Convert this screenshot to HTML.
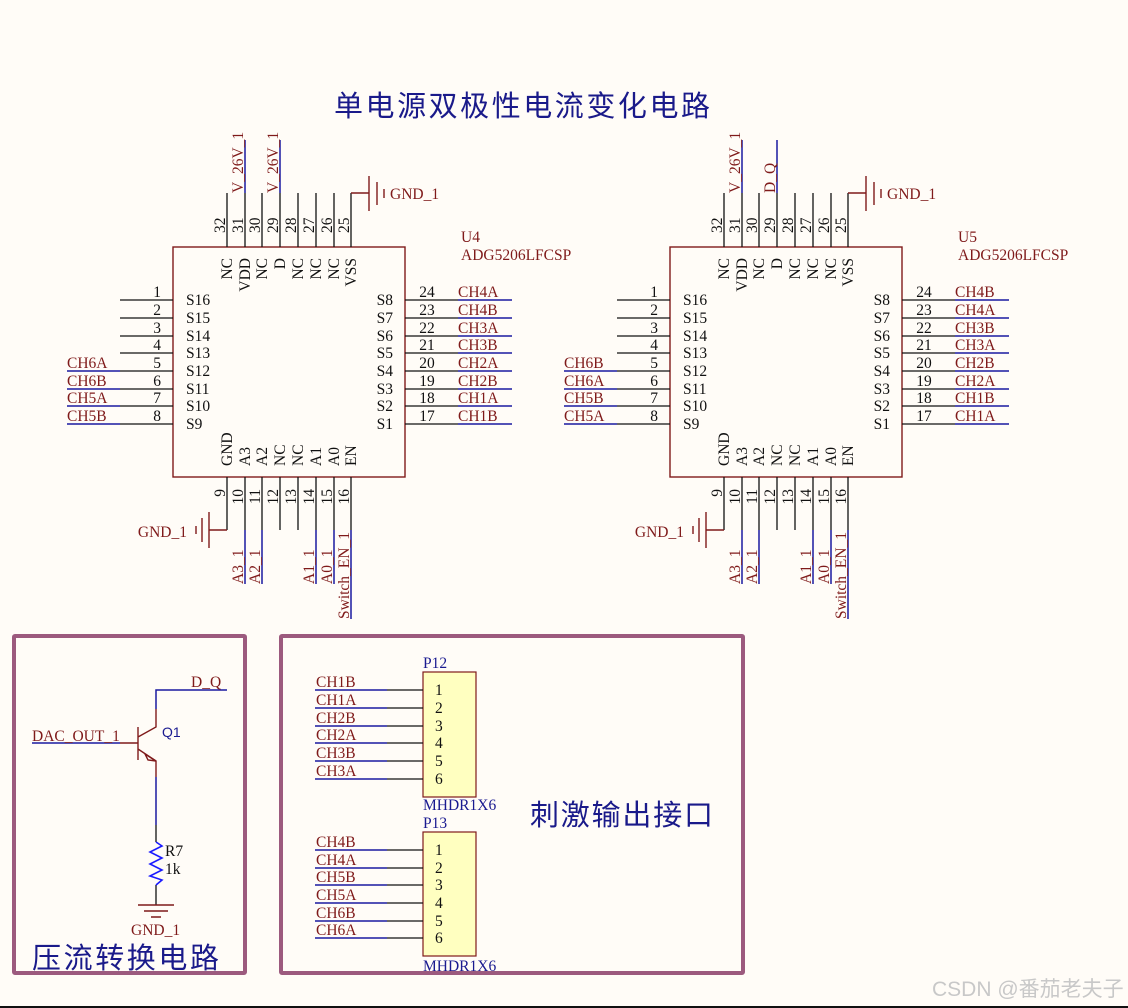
<!DOCTYPE html>
<html><head><meta charset="utf-8"><style>
html,body{margin:0;padding:0;background:#fffcf7;}
svg{display:block}
.p{stroke:#111;stroke-width:1.3;fill:none}
.n{stroke:#1a1aa0;stroke-width:1.5;fill:none}
.r{stroke:#7f1a1a;stroke-width:1.4;fill:none}
text{font-family:"Liberation Serif",serif;font-size:15.5px}
.k{fill:#111}
.t{fill:#7f1a1a}
.b{fill:#1a1a90}
.cj{font-family:"Liberation Sans","Noto Sans CJK SC",sans-serif;fill:#1a1a8a;font-size:29px}
</style></head><body>
<svg width="1128" height="1008" viewBox="0 0 1128 1008" xmlns="http://www.w3.org/2000/svg">
<rect width="1128" height="1008" fill="#fffcf7"/>
<text class="cj" x="334" y="116" textLength="376">单电源双极性电流变化电路</text>

<g id="u4">
<rect x="173" y="247" width="232" height="230" class="r"/>
<path class="p" d="M227 193V247M245 193V247M262 193V247M280 193V247M298 193V247M316 193V247M334 193V247M351 193V247"/>
<path class="n" d="M245 140V193M280 140V193"/>
<path class="r" d="M351 193H369M369 176V211M377 182V205M384 189V198"/>
<text class="t" x="390" y="199">GND_1</text>
<g class="k">
<text transform="translate(225,233) rotate(-90)">32</text>
<text transform="translate(243,233) rotate(-90)">31</text>
<text transform="translate(260,233) rotate(-90)">30</text>
<text transform="translate(278,233) rotate(-90)">29</text>
<text transform="translate(296,233) rotate(-90)">28</text>
<text transform="translate(314,233) rotate(-90)">27</text>
<text transform="translate(332,233) rotate(-90)">26</text>
<text transform="translate(349,233) rotate(-90)">25</text>
<text transform="translate(232,258) rotate(-90)" text-anchor="end">NC</text>
<text transform="translate(250,258) rotate(-90)" text-anchor="end">VDD</text>
<text transform="translate(267,258) rotate(-90)" text-anchor="end">NC</text>
<text transform="translate(285,258) rotate(-90)" text-anchor="end">D</text>
<text transform="translate(303,258) rotate(-90)" text-anchor="end">NC</text>
<text transform="translate(321,258) rotate(-90)" text-anchor="end">NC</text>
<text transform="translate(339,258) rotate(-90)" text-anchor="end">NC</text>
<text transform="translate(356,258) rotate(-90)" text-anchor="end">VSS</text>
</g>
<text class="t" transform="translate(243,193) rotate(-90)">V_26V_1</text>
<text class="t" transform="translate(278,193) rotate(-90)">V_26V_1</text>
<path class="p" d="M120 300H173M120 318H173M120 336H173M120 353H173M120 371H173M120 389H173M120 406H173M120 424H173"/>
<path class="n" d="M67 371H120M67 389H120M67 406H120M67 424H120"/>
<g class="k" text-anchor="end">
<text x="161" y="297">1</text><text x="161" y="315">2</text><text x="161" y="333">3</text><text x="161" y="350">4</text>
<text x="161" y="368">5</text><text x="161" y="386">6</text><text x="161" y="403">7</text><text x="161" y="421">8</text>
</g>
<g class="k">
<text x="186" y="305">S16</text><text x="186" y="323">S15</text><text x="186" y="341">S14</text><text x="186" y="358">S13</text>
<text x="186" y="376">S12</text><text x="186" y="394">S11</text><text x="186" y="411">S10</text><text x="186" y="429">S9</text>
</g>
<g class="t">
<text x="67" y="368">CH6A</text><text x="67" y="386">CH6B</text><text x="67" y="403">CH5A</text><text x="67" y="421">CH5B</text>
</g>
<path class="p" d="M405 300H458M405 318H458M405 336H458M405 353H458M405 371H458M405 389H458M405 406H458M405 424H458"/>
<path class="n" d="M458 300H512M458 318H512M458 336H512M458 353H512M458 371H512M458 389H512M458 406H512M458 424H512"/>
<g class="k" text-anchor="middle">
<text x="427" y="297">24</text><text x="427" y="315">23</text><text x="427" y="333">22</text><text x="427" y="350">21</text>
<text x="427" y="368">20</text><text x="427" y="386">19</text><text x="427" y="403">18</text><text x="427" y="421">17</text>
</g>
<g class="k" text-anchor="end">
<text x="393" y="305">S8</text><text x="393" y="323">S7</text><text x="393" y="341">S6</text><text x="393" y="358">S5</text>
<text x="393" y="376">S4</text><text x="393" y="394">S3</text><text x="393" y="411">S2</text><text x="393" y="429">S1</text>
</g>
<g class="t">
<text x="458" y="297">CH4A</text><text x="458" y="315">CH4B</text><text x="458" y="333">CH3A</text><text x="458" y="350">CH3B</text>
<text x="458" y="368">CH2A</text><text x="458" y="386">CH2B</text><text x="458" y="403">CH1A</text><text x="458" y="421">CH1B</text>
</g>
<path class="p" d="M227 477V530M245 477V530M262 477V530M280 477V530M298 477V530M316 477V530M334 477V530M351 477V530"/>
<path class="n" d="M245 530V584M262 530V584M316 530V584M334 530V584M351 530V619"/>
<path class="r" d="M227 530H209M209 512V548M202 518V542M196 526V534"/>
<text class="t" x="187" y="537" text-anchor="end">GND_1</text>
<g class="k">
<text transform="translate(225,489) rotate(-90)" text-anchor="end">9</text>
<text transform="translate(243,489) rotate(-90)" text-anchor="end">10</text>
<text transform="translate(260,489) rotate(-90)" text-anchor="end">11</text>
<text transform="translate(278,489) rotate(-90)" text-anchor="end">12</text>
<text transform="translate(296,489) rotate(-90)" text-anchor="end">13</text>
<text transform="translate(314,489) rotate(-90)" text-anchor="end">14</text>
<text transform="translate(332,489) rotate(-90)" text-anchor="end">15</text>
<text transform="translate(349,489) rotate(-90)" text-anchor="end">16</text>
<text transform="translate(232,466) rotate(-90)">GND</text>
<text transform="translate(250,466) rotate(-90)">A3</text>
<text transform="translate(267,466) rotate(-90)">A2</text>
<text transform="translate(285,466) rotate(-90)">NC</text>
<text transform="translate(303,466) rotate(-90)">NC</text>
<text transform="translate(321,466) rotate(-90)">A1</text>
<text transform="translate(339,466) rotate(-90)">A0</text>
<text transform="translate(356,466) rotate(-90)">EN</text>
</g>
<g class="t">
<text transform="translate(243,584) rotate(-90)">A3_1</text>
<text transform="translate(260,584) rotate(-90)">A2_1</text>
<text transform="translate(314,584) rotate(-90)">A1_1</text>
<text transform="translate(332,584) rotate(-90)">A0_1</text>
<text transform="translate(349,619) rotate(-90)">Switch_EN_1</text>
</g>
<text class="t" x="461" y="242">U4</text>
<text class="t" x="461" y="260">ADG5206LFCSP</text>
</g>

<g transform="translate(497,0)">
<rect x="173" y="247" width="232" height="230" class="r"/>
<path class="p" d="M227 193V247M245 193V247M262 193V247M280 193V247M298 193V247M316 193V247M334 193V247M351 193V247"/>
<path class="n" d="M245 140V193M280 140V193"/>
<path class="r" d="M351 193H369M369 176V211M377 182V205M384 189V198"/>
<text class="t" x="390" y="199">GND_1</text>
<g class="k">
<text transform="translate(225,233) rotate(-90)">32</text>
<text transform="translate(243,233) rotate(-90)">31</text>
<text transform="translate(260,233) rotate(-90)">30</text>
<text transform="translate(278,233) rotate(-90)">29</text>
<text transform="translate(296,233) rotate(-90)">28</text>
<text transform="translate(314,233) rotate(-90)">27</text>
<text transform="translate(332,233) rotate(-90)">26</text>
<text transform="translate(349,233) rotate(-90)">25</text>
<text transform="translate(232,258) rotate(-90)" text-anchor="end">NC</text>
<text transform="translate(250,258) rotate(-90)" text-anchor="end">VDD</text>
<text transform="translate(267,258) rotate(-90)" text-anchor="end">NC</text>
<text transform="translate(285,258) rotate(-90)" text-anchor="end">D</text>
<text transform="translate(303,258) rotate(-90)" text-anchor="end">NC</text>
<text transform="translate(321,258) rotate(-90)" text-anchor="end">NC</text>
<text transform="translate(339,258) rotate(-90)" text-anchor="end">NC</text>
<text transform="translate(356,258) rotate(-90)" text-anchor="end">VSS</text>
</g>
<text class="t" transform="translate(243,193) rotate(-90)">V_26V_1</text>
<text class="t" transform="translate(278,193) rotate(-90)">D_Q</text>
<path class="p" d="M120 300H173M120 318H173M120 336H173M120 353H173M120 371H173M120 389H173M120 406H173M120 424H173"/>
<path class="n" d="M67 371H120M67 389H120M67 406H120M67 424H120"/>
<g class="k" text-anchor="end">
<text x="161" y="297">1</text><text x="161" y="315">2</text><text x="161" y="333">3</text><text x="161" y="350">4</text>
<text x="161" y="368">5</text><text x="161" y="386">6</text><text x="161" y="403">7</text><text x="161" y="421">8</text>
</g>
<g class="k">
<text x="186" y="305">S16</text><text x="186" y="323">S15</text><text x="186" y="341">S14</text><text x="186" y="358">S13</text>
<text x="186" y="376">S12</text><text x="186" y="394">S11</text><text x="186" y="411">S10</text><text x="186" y="429">S9</text>
</g>
<g class="t">
<text x="67" y="368">CH6B</text><text x="67" y="386">CH6A</text><text x="67" y="403">CH5B</text><text x="67" y="421">CH5A</text>
</g>
<path class="p" d="M405 300H458M405 318H458M405 336H458M405 353H458M405 371H458M405 389H458M405 406H458M405 424H458"/>
<path class="n" d="M458 300H512M458 318H512M458 336H512M458 353H512M458 371H512M458 389H512M458 406H512M458 424H512"/>
<g class="k" text-anchor="middle">
<text x="427" y="297">24</text><text x="427" y="315">23</text><text x="427" y="333">22</text><text x="427" y="350">21</text>
<text x="427" y="368">20</text><text x="427" y="386">19</text><text x="427" y="403">18</text><text x="427" y="421">17</text>
</g>
<g class="k" text-anchor="end">
<text x="393" y="305">S8</text><text x="393" y="323">S7</text><text x="393" y="341">S6</text><text x="393" y="358">S5</text>
<text x="393" y="376">S4</text><text x="393" y="394">S3</text><text x="393" y="411">S2</text><text x="393" y="429">S1</text>
</g>
<g class="t">
<text x="458" y="297">CH4B</text><text x="458" y="315">CH4A</text><text x="458" y="333">CH3B</text><text x="458" y="350">CH3A</text>
<text x="458" y="368">CH2B</text><text x="458" y="386">CH2A</text><text x="458" y="403">CH1B</text><text x="458" y="421">CH1A</text>
</g>
<path class="p" d="M227 477V530M245 477V530M262 477V530M280 477V530M298 477V530M316 477V530M334 477V530M351 477V530"/>
<path class="n" d="M245 530V584M262 530V584M316 530V584M334 530V584M351 530V619"/>
<path class="r" d="M227 530H209M209 512V548M202 518V542M196 526V534"/>
<text class="t" x="187" y="537" text-anchor="end">GND_1</text>
<g class="k">
<text transform="translate(225,489) rotate(-90)" text-anchor="end">9</text>
<text transform="translate(243,489) rotate(-90)" text-anchor="end">10</text>
<text transform="translate(260,489) rotate(-90)" text-anchor="end">11</text>
<text transform="translate(278,489) rotate(-90)" text-anchor="end">12</text>
<text transform="translate(296,489) rotate(-90)" text-anchor="end">13</text>
<text transform="translate(314,489) rotate(-90)" text-anchor="end">14</text>
<text transform="translate(332,489) rotate(-90)" text-anchor="end">15</text>
<text transform="translate(349,489) rotate(-90)" text-anchor="end">16</text>
<text transform="translate(232,466) rotate(-90)">GND</text>
<text transform="translate(250,466) rotate(-90)">A3</text>
<text transform="translate(267,466) rotate(-90)">A2</text>
<text transform="translate(285,466) rotate(-90)">NC</text>
<text transform="translate(303,466) rotate(-90)">NC</text>
<text transform="translate(321,466) rotate(-90)">A1</text>
<text transform="translate(339,466) rotate(-90)">A0</text>
<text transform="translate(356,466) rotate(-90)">EN</text>
</g>
<g class="t">
<text transform="translate(243,584) rotate(-90)">A3_1</text>
<text transform="translate(260,584) rotate(-90)">A2_1</text>
<text transform="translate(314,584) rotate(-90)">A1_1</text>
<text transform="translate(332,584) rotate(-90)">A0_1</text>
<text transform="translate(349,619) rotate(-90)">Switch_EN_1</text>
</g>
<text class="t" x="461" y="242">U5</text>
<text class="t" x="461" y="260">ADG5206LFCSP</text>
</g>

<rect x="14" y="636" width="231" height="337" fill="none" stroke="#9c5a7e" stroke-width="4" rx="1"/>
<rect x="281" y="636" width="462" height="337" fill="none" stroke="#9c5a7e" stroke-width="4" rx="1"/>

<path class="n" d="M156 709V690H227"/>
<text class="t" x="191" y="687">D_Q</text>
<path class="n" d="M32 743H120"/>
<text class="t" x="32" y="741">DAC_OUT_1</text>
<path class="r" d="M120 743H138M138 727V760M138 737L156 727V709M138 749L156 761V777"/>
<path class="r" d="M145 754L156 761L148 760Z" fill="#fffcf7"/>
<text x="162" y="737" style="font-family:'Liberation Sans',sans-serif;font-size:14px;fill:#1a1a90">Q1</text>
<path class="n" d="M156 777V825"/>
<path class="p" d="M156 825V842M156 885V905"/>
<path d="M156 842L162 846L150 852L162 858L150 864L162 870L150 876L162 880L156 885" stroke="#1a1aff" stroke-width="1.6" fill="none"/>
<text class="k" x="165" y="856">R7</text>
<text class="k" x="165" y="874">1k</text>
<path class="r" d="M138 905H174M144 911H168M151 917H161"/>
<text class="t" x="131" y="935">GND_1</text>
<text class="cj" x="32" y="968" textLength="187">压流转换电路</text>

<rect x="423" y="672" width="53" height="125" fill="#ffffc0" stroke="#7f1a1a" stroke-width="1.2"/>
<text class="b" x="423" y="668">P12</text>
<text class="b" x="423" y="810">MHDR1X6</text>
<path class="n" d="M315 690H387M315 708H387M315 726H387M315 743H387M315 761H387M315 779H387"/>
<path class="p" d="M387 690H423M387 708H423M387 726H423M387 743H423M387 761H423M387 779H423"/>
<g class="t">
<text x="316" y="687">CH1B</text><text x="316" y="705">CH1A</text><text x="316" y="723">CH2B</text>
<text x="316" y="740">CH2A</text><text x="316" y="758">CH3B</text><text x="316" y="776">CH3A</text>
</g>
<g class="k">
<text x="435" y="695">1</text><text x="435" y="713">2</text><text x="435" y="731">3</text>
<text x="435" y="748">4</text><text x="435" y="766">5</text><text x="435" y="784">6</text>
</g>
<rect x="423" y="832" width="53" height="124" fill="#ffffc0" stroke="#7f1a1a" stroke-width="1.2"/>
<text class="b" x="423" y="828">P13</text>
<text class="b" x="423" y="971">MHDR1X6</text>
<path class="n" d="M315 850H387M315 868H387M315 885H387M315 903H387M315 921H387M315 938H387"/>
<path class="p" d="M387 850H423M387 868H423M387 885H423M387 903H423M387 921H423M387 938H423"/>
<g class="t">
<text x="316" y="847">CH4B</text><text x="316" y="865">CH4A</text><text x="316" y="882">CH5B</text>
<text x="316" y="900">CH5A</text><text x="316" y="918">CH6B</text><text x="316" y="935">CH6A</text>
</g>
<g class="k">
<text x="435" y="855">1</text><text x="435" y="873">2</text><text x="435" y="890">3</text>
<text x="435" y="908">4</text><text x="435" y="926">5</text><text x="435" y="943">6</text>
</g>
<text class="cj" x="530" y="825" textLength="183">刺激输出接口</text>

<text x="932" y="996" style="font-family:'Liberation Sans','Noto Sans CJK SC',sans-serif;font-size:21px;fill:#c8c8c8">CSDN @番茄老夫子</text>
<rect x="0" y="1006" width="1128" height="2" fill="#111"/>
</svg>
</body></html>
